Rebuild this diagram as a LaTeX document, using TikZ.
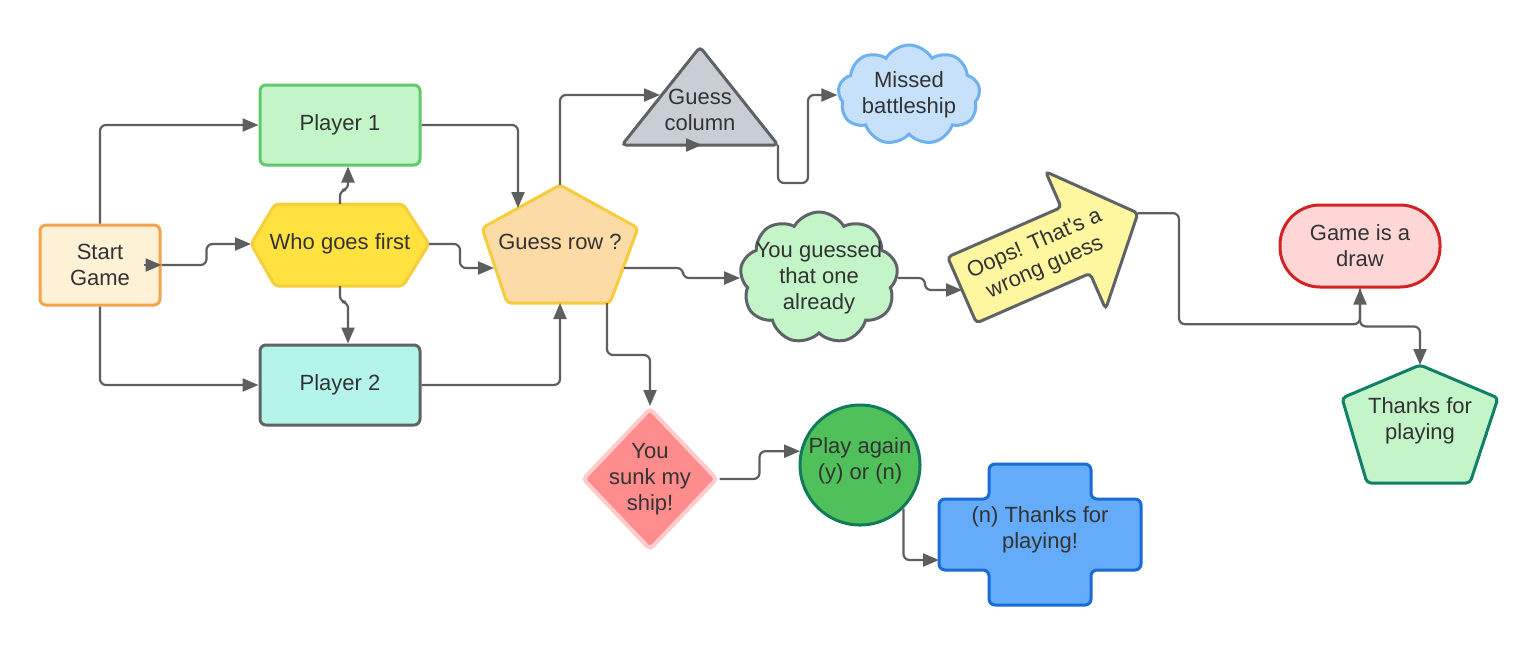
\documentclass[tikz,border=0pt]{standalone}
\usepackage{fontspec}
\setmainfont{Liberation Sans}[Ligatures=TeXOff]
\usetikzlibrary{shapes.geometric,shapes.symbols,arrows.meta}

\definecolor{linegray}{HTML}{5E5E5E}
\definecolor{textgray}{HTML}{333333}
\definecolor{darkline}{HTML}{5F6368}
\definecolor{startfill}{HTML}{FEF1D6}
\definecolor{startline}{HTML}{F2A34C}
\definecolor{p1fill}{HTML}{C3F5C8}
\definecolor{p1line}{HTML}{61C96B}
\definecolor{p2fill}{HTML}{B5F4E9}
\definecolor{whofill}{HTML}{FFE140}
\definecolor{wholine}{HTML}{F5CF3A}
\definecolor{rowfill}{HTML}{FCDBA6}
\definecolor{rowline}{HTML}{F7CC3C}
\definecolor{colfill}{HTML}{C9CDD4}
\definecolor{missfill}{HTML}{C7E1FB}
\definecolor{missline}{HTML}{6EB1EE}
\definecolor{oopsfill}{HTML}{FFF6A0}
\definecolor{drawfill}{HTML}{FFD6D6}
\definecolor{drawline}{HTML}{D12323}
\definecolor{thxline}{HTML}{127F67}
\definecolor{sunkfill}{HTML}{FF8C8C}
\definecolor{sunkline}{HTML}{FFCCCC}
\definecolor{playfill}{HTML}{4FC05A}
\definecolor{playline}{HTML}{107A5A}
\definecolor{crossfill}{HTML}{64ABFA}
\definecolor{crossline}{HTML}{186DD4}

\tikzset{
  every node/.style={text=textgray, font=\fontsize{11}{13}\selectfont, align=center},
  flow/.style={draw=linegray, line width=1.1pt, rounded corners=3pt,
    -{Triangle[length=8pt,width=6.5pt]}},
  box/.style={rectangle, rounded corners=3pt, line width=1.5pt,
    minimum width=80pt, minimum height=40pt},
  outline/.style={line width=1.5pt, rounded corners=2pt},
  cloudbox/.style={cloud, cloud puffs=9, cloud puff arc=120, aspect=1.4,
    line width=1.5pt, inner sep=0pt}
}

\begin{document}
\begin{tikzpicture}[x=0.5pt,y=-0.5pt]
% Fix the canvas to the size of the sheet
\useasboundingbox[fill=white] (0,0) rectangle (1540,645);

% Draw the start box and the two players
\node[box, minimum width=60pt, fill=startfill, draw=startline] (startg) at (100,265) {Start\\Game};
\node[box, fill=p1fill, draw=p1line] (p1) at (340,125) {Player 1};
\node[box, fill=p2fill, draw=darkline] (p2) at (340,385) {Player 2};

% Draw the hexagon for who goes first
\draw[outline, fill=whofill, draw=wholine]
  (251,244) -- (275,204) -- (403,204) -- (429,244) -- (403,286) -- (275,286) -- cycle;
\node (who) at (340,244) {Who goes first};
\coordinate (who-n) at (340,204);
\coordinate (who-s) at (340,286);
\coordinate (who-e) at (429,244);
\coordinate (who-w) at (251,244);

% Draw the pentagon for the row guess
\draw[outline, fill=rowfill, draw=rowline]
  (560,185) -- (638,228) -- (610,303) -- (507,303) -- (482,228) -- cycle;
\node (grow) at (560,242) {Guess row ?};
\coordinate (grow-n) at (560,185);
\coordinate (grow-nw) at (518,208);
\coordinate (grow-w) at (494,268);
\coordinate (grow-e) at (624,268);
\coordinate (grow-s) at (560,303);
\coordinate (grow-se) at (607,303);

% Draw the triangle for the column guess
\draw[outline, fill=colfill, draw=darkline]
  (700,47) -- (778,145) -- (622,145) -- cycle;
\node (gcol) at (700,110) {Guess\\column};
\coordinate (gcol-w) at (660,95);
\coordinate (gcol-s) at (702,145);
\coordinate (gcol-se) at (778,145);

% Draw the two clouds
\node[cloudbox, minimum width=71pt, minimum height=50pt, fill=missfill, draw=missline,
  label={[align=center]center:Missed\\battleship}] (missed) at (909,95) {};
\node[cloudbox, minimum width=79pt, minimum height=66pt, fill=p1fill, draw=darkline,
  label={[align=center]center:You guessed\\that one\\already}] (guessed) at (819,278) {};

% Draw the wrong guess arrow
\begin{scope}[shift={(962,290)}, rotate=23.6]
  \draw[outline, fill=oopsfill, draw=darkline]
    (0,-36) -- (124,-36) -- (124,-75) -- (192,0) -- (124,75) -- (124,36) -- (0,36) -- cycle;
  \node[transform shape] (oops) at (85,0) {Oops! That's a\\wrong guess};
  \coordinate (oops-tail) at (0,0);
  \coordinate (oops-tip) at (192,0);
\end{scope}

% Draw the draw box and the thanks pentagon
\node[box, rounded corners=20pt, minimum height=41pt, fill=drawfill, draw=drawline] (gdraw) at (1360,246) {Game is a\\draw};
\draw[outline, fill=p1fill, draw=thxline]
  (1420,365) -- (1498,398) -- (1470,483) -- (1367,483) -- (1342,398) -- cycle;
\node (thx) at (1420,421) {Thanks for\\playing};
\coordinate (thx-n) at (1420,365);

% Draw the sunk diamond and the play again circle
\node[diamond, minimum width=67.5pt, minimum height=71pt, inner sep=0pt, rounded corners=2pt,
  line width=2pt, fill=sunkfill, draw=sunkline,
  label={[align=center]center:You\\sunk my\\ship!}] (sunk) at (650,479) {};
\node[circle, minimum size=60pt, inner sep=0pt, line width=1.5pt, fill=playfill, draw=playline] (play) at (860,465) {};
\node at (860,461) {Play again\\(y) or (n)};

% Draw the cross for the last thanks
\draw[outline, rounded corners=3pt, fill=crossfill, draw=crossline]
  (989,464) -- (1091,464) -- (1091,499) -- (1141,499) -- (1141,570) -- (1091,570)
  -- (1091,605) -- (989,605) -- (989,570) -- (939,570) -- (939,499) -- (989,499) -- cycle;
\node (nthx) at (1040,530) {(n) Thanks for\\playing!};
\coordinate (nthx-w) at (939,560);

% Connect the start to the players and the first choice
\draw[flow] (startg.north) |- (p1.west);
\draw[flow] (startg.south) |- (p2.west);
\draw[flow] ([xshift=-9pt]startg.east) -- (startg.east);
\draw[flow] (startg.east) -- ++(45,0) |- (who-w);
\draw[flow] (who-n) -- ++(0,-14) -| ([xshift=4pt]p1.south);
\draw[flow] (who-s) -- ++(0,16) -| ([xshift=4pt]p2.north);

% Connect everything to the row guess
\draw[flow] (who-e) -- ++(31,0) |- (grow-w);
\draw[flow] (p1.east) -| (grow-nw);
\draw[flow] (p2.east) -| (grow-s);

% Connect the row guess to its outcomes
\draw[flow] (grow-n) |- (gcol-w);
\draw[flow] ([xshift=-9pt]gcol-s) -- (gcol-s);
\draw[flow] (gcol-se) -- ++(0,38) -- ++(30,0) |- (missed.west);
\draw[flow] (grow-e) -- ++(59,0) |- (guessed.west);
\draw[flow] (guessed.east) -- ++(27,0) |- (oops-tail);
\draw[flow] (grow-se) -- ++(0,52) -| (sunk.north);
\draw[flow] (sunk.east) -- ++(40,0) |- (play.167);
\draw[flow] (play.-45) |- (nthx-w);

% Connect the wrong guess to the end
\draw[flow] (oops-tip) -- ++(41,0) -- ++(0,111) -| (gdraw.south);
\draw[flow] (gdraw.south) -- ++(0,38) -| (thx-n);

\end{tikzpicture}
\end{document}
